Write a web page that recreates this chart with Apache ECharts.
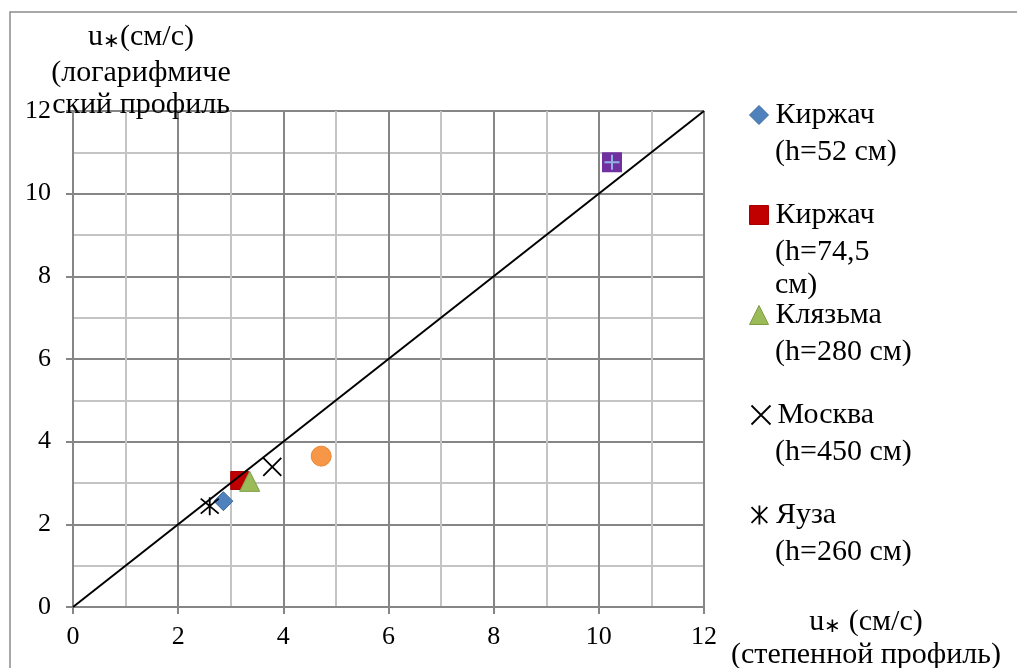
<!DOCTYPE html>
<html>
<head>
<meta charset="utf-8">
<script src="https://cdn.jsdelivr.net/npm/echarts@6/dist/echarts.min.js"></script>
<style>
  html, body { margin: 0; padding: 0; background: #ffffff; }
  #chart { width: 1017px; height: 668px; }
</style>
</head>
<body>
<div id="chart"></div>
<script>
// u* from the power-law profile (x) against u* from the logarithmic profile (y), cm/s
const seriesNames = [
  'Киржач (h=52 см)',
  'Киржач (h=74,5 см)',
  'Клязьма (h=280 см)',
  'Москва (h=450 см)',
  'Яуза (h=260 см)',
  'Series6',
  'Series7'
];
const kirzhach52 = [[2.86, 2.56]];
const kirzhach745 = [[3.17, 3.06]];
const klyazma280 = [[3.36, 3.04]];
const moskva450 = [[3.79, 3.39]];
const yauza260 = [[2.60, 2.44]];
const extraOrange = [[4.72, 3.65]];
const extraPurple = [[10.25, 10.76]];
const equalityLine = [[0, 0], [12, 12]];
const axisTicks = [0, 2, 4, 6, 8, 10, 12];

// first line of each legend entry, then the wrapped continuation lines
const legendFirstLines = ['Киржач', 'Киржач', 'Клязьма', 'Москва', 'Яуза'];
const legendMoreLines = [
  ['(h=52 см)'],
  ['(h=74,5', 'см)'],
  ['(h=280 см)'],
  ['(h=450 см)'],
  ['(h=260 см)']
];

const FONT = 'Liberation Serif';
const MAJOR = '#868686';
const MINOR = '#c4c4c4';

const xMark = 'path://M0,0L10,10M10,0L0,10';
const starMark = 'path://M0,0L10,10M10,0L0,10M5,-1L5,11';
const plusMark = 'path://M5,0L5,10M0,5L10,5';

const seriesLook = [
  { symbol: 'diamond', size: 19, style: { color: '#4f81bd', borderColor: '#3d6a9e', borderWidth: 1, opacity: 1 } },
  { symbol: 'rect', size: 18, style: { color: '#c00000', borderColor: '#a80000', borderWidth: 1, opacity: 1 } },
  { symbol: 'triangle', size: 20, style: { color: '#9bbb59', borderColor: '#7f9c45', borderWidth: 1, opacity: 1 } },
  { symbol: xMark, size: 18, style: { color: 'none', borderColor: '#000000', borderWidth: 1.8, opacity: 1 } },
  { symbol: starMark, size: 18, style: { color: 'none', borderColor: '#000000', borderWidth: 1.8, opacity: 1 } }
];
const seriesData = [kirzhach52, kirzhach745, klyazma280, moskva450, yauza260];

const chart = echarts.init(document.getElementById('chart'), null, { renderer: 'canvas' });

const series = seriesData.map((d, i) => ({
  name: seriesNames[i],
  type: 'scatter',
  data: d,
  symbol: seriesLook[i].symbol,
  symbolSize: seriesLook[i].size,
  itemStyle: seriesLook[i].style,
  z: 3
}));
series.push({
  name: seriesNames[5], type: 'scatter', data: extraOrange, symbol: 'circle', symbolSize: 20,
  itemStyle: { color: '#f79646', borderColor: '#e98a3a', borderWidth: 1, opacity: 1 }, z: 3
});
series.push({
  name: seriesNames[6], type: 'scatter', data: extraPurple, symbol: 'rect', symbolSize: 20,
  itemStyle: { color: '#7030a0', opacity: 1 }, z: 3
});
series.push({
  name: seriesNames[6] + ' plus', type: 'scatter', data: extraPurple, symbol: plusMark, symbolSize: 15,
  itemStyle: { color: 'none', borderColor: '#8eb4e3', borderWidth: 2, opacity: 1 }, z: 4
});
series.push({
  name: '1:1', type: 'line', data: equalityLine, symbol: 'none', silent: true,
  lineStyle: { color: '#000000', width: 2 }, z: 5
});

const legendCenters = [115, 215, 315, 415, 515];
const legends = legendCenters.map((cy, i) => ({
  show: true,
  left: 749,
  top: cy - 18.5,
  padding: 0,
  itemWidth: 19,
  itemHeight: 19,
  itemGap: 0,
  selectedMode: false,
  data: [{
    name: seriesNames[i],
    icon: seriesLook[i].symbol,
    itemStyle: seriesLook[i].style
  }],
  formatter: () => legendFirstLines[i],
  textStyle: { fontFamily: FONT, fontSize: 30, color: '#000', lineHeight: 37, padding: [0, 0, 0, 2] }
}));

const textEls = [];
legendMoreLines.forEach((lines, i) => {
  lines.forEach((t, k) => {
    const cy = (i === 1 && k === 1) ? legendCenters[i] + 70 : legendCenters[i] + (k + 1) * 37;
    textEls.push({
      type: 'text', x: 775, y: cy, z: 10,
      style: { text: t, fontFamily: FONT, fontSize: 30, fill: '#000', align: 'left', verticalAlign: 'middle' }
    });
  });
});

// axis titles: u with a small low asterisk
const richParts = {
  n: { fontFamily: FONT, fontSize: 30, color: '#000', lineHeight: 34 },
  s: { fontFamily: FONT, fontSize: 20, color: '#000', lineHeight: 34, padding: [10, 0, 0, 0] }
};
const yTitle = ['{n|u}{s|∗}{n|(см/с)}', '{n|(логарифмиче}', '{n|ский профиль}'];
const yTitleCenters = [37, 73, 105];
yTitle.forEach((t, k) => {
  textEls.push({
    type: 'text', x: 141, y: yTitleCenters[k], z: 10,
    style: { text: t, rich: richParts, fill: '#000', align: 'center', verticalAlign: 'middle' }
  });
});
const xTitle = ['{n|u}{s|∗}{n| (см/с)}', '{n|(степенной профиль)}'];
const xTitleCenters = [622, 655];
xTitle.forEach((t, k) => {
  textEls.push({
    type: 'text', x: 866, y: xTitleCenters[k], z: 10,
    style: { text: t, rich: richParts, fill: '#000', align: 'center', verticalAlign: 'middle' }
  });
});

// outer chart frame
textEls.unshift({
  type: 'rect', shape: { x: 10, y: 12, width: 1100, height: 800 }, silent: true, z: -1,
  style: { fill: 'none', stroke: '#8c8c8c', lineWidth: 1.5 }
});

const axisCommon = {
  type: 'value',
  min: axisTicks[0],
  max: axisTicks[axisTicks.length - 1],
  interval: axisTicks[1] - axisTicks[0],
  axisLine: { show: true, onZero: false, lineStyle: { color: MAJOR, width: 2 } },
  axisTick: { show: true, inside: false, length: 7, lineStyle: { color: MAJOR, width: 2 } },
  splitLine: { show: true, lineStyle: { color: MAJOR, width: 2 } },
  minorTick: { show: false, splitNumber: 2 },
  minorSplitLine: { show: true, lineStyle: { color: MINOR, width: 2 } },
  axisLabel: { fontFamily: FONT, fontSize: 26, color: '#000' }
};

chart.setOption({
  backgroundColor: '#ffffff',
  animation: false,
  grid: { left: 73, right: 313, top: 111, bottom: 61, containLabel: false },
  xAxis: Object.assign({}, axisCommon, {
    axisLabel: Object.assign({}, axisCommon.axisLabel, { margin: 17 })
  }),
  yAxis: Object.assign({}, axisCommon, {
    axisLabel: Object.assign({}, axisCommon.axisLabel, { margin: 22, padding: [4, 0, 0, 0] })
  }),
  legend: legends,
  graphic: textEls,
  series: series
});
</script>
</body>
</html>
